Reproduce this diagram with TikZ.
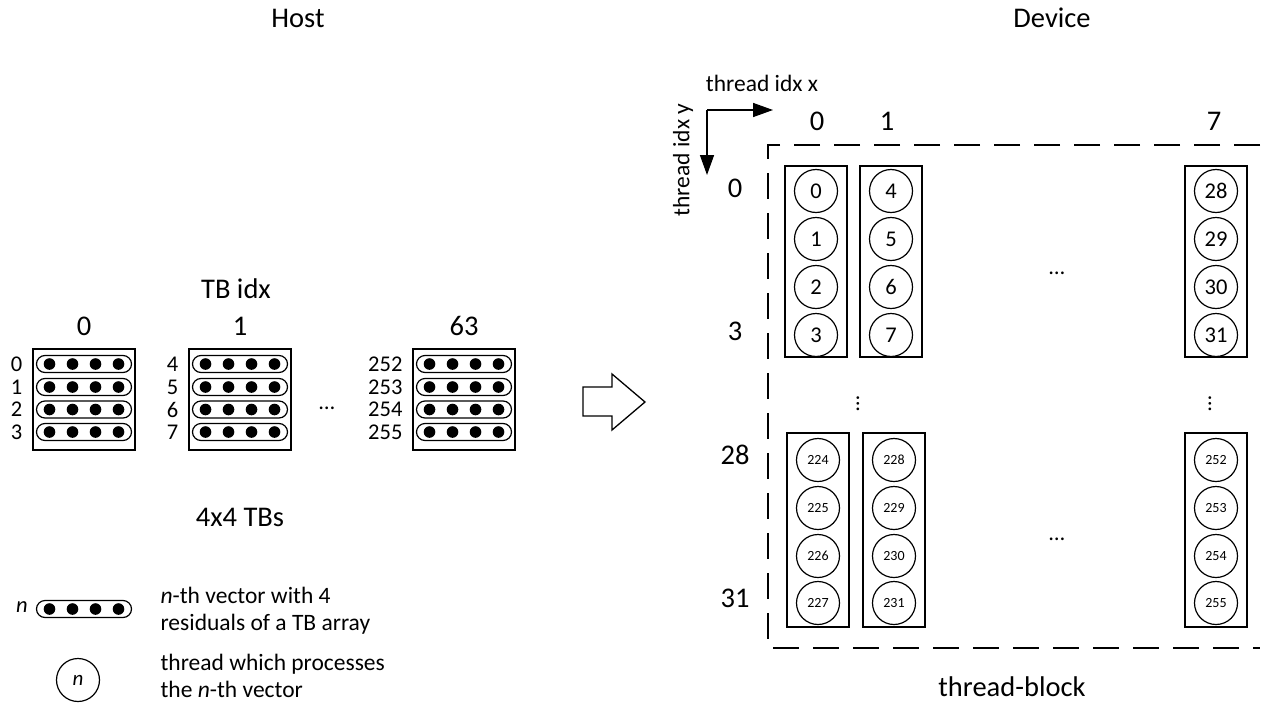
\documentclass[tikz,border=0pt]{standalone}
\usepackage{fontspec}
\setmainfont{Carlito}
\usetikzlibrary{arrows.meta}
\tikzset{
  big/.style={font=\fontsize{28.5}{32}\selectfont, inner sep=0pt},
  mid/.style={font=\fontsize{22.5}{26}\selectfont, inner sep=0pt},
  leg/.style={font=\fontsize{23.5}{27}\selectfont, inner sep=0pt, anchor=base west},
  small/.style={font=\fontsize{14}{16}\selectfont},
  tbbox/.style={draw, minimum width=102pt, minimum height=101pt, inner sep=0pt},
  capsule/.style={draw, rounded corners=8.5pt, minimum width=95pt, minimum height=17pt, inner sep=0pt},
  colbox/.style={draw, minimum width=62pt, inner sep=0pt},
  thr/.style={draw, circle, minimum size=43pt, inner sep=0pt},
  dot/.style={fill=black},
  axis/.style={line width=1.5pt, -{Triangle[length=20pt,width=14pt]}},
  blockline/.style={line width=1.5pt, dash pattern=on 26pt off 14pt},
}
\begin{document}
\begin{tikzpicture}[x=1pt, y=-1pt, line width=1.2pt]
\useasboundingbox (0,0) rectangle (1268,704);

% headings
\node[big] (host) at (298,18) {Host};
\node[big] (device) at (1052,18) {Device};

% ---------------- Host ----------------
\node[big] (tbidx) at (236,289) {TB idx};
\foreach \bx/\nm/\first/\lab in {33/A/0/0, 189/B/4/1, 413/C/252/63}{
  \node[tbbox] (\nm) at (\bx+51,399.5) {};
  \node[big] (\nm lab) at (\bx+51,326) {\lab};
  \foreach \r/\yy in {0/364, 1/387, 2/409.5, 3/432}{
    \pgfmathtruncatemacro\num{\first+\r}
    \node[capsule] (\nm v\r) at (\bx+51,\yy) {};
    \foreach \d in {-34.5,-11.5,11.5,34.5}
      \fill[dot] (\bx+51+\d,\yy) circle (5.8);
    \node[mid, anchor=east] (\nm n\r) at (\bx-10,\yy) {\num};
  }
}
\node[mid, anchor=base] (hdots) at (327,409) {\symbol{"2026}};
\node[big] (tbs) at (240,517) {4x4 TBs};

% legend
\node[capsule] (legcap) at (84,609) {};
\foreach \d in {-34.5,-11.5,11.5,34.5}
  \fill[dot] (84+\d,609) circle (5.8);
\node[mid] (legn) at (22,607) {\itshape n};
\node[leg] (leg1) at (160,603) {\textit{n}-th vector with 4};
\node[leg] (leg2) at (160,630) {residuals of a TB array};
\node[thr] (legthr) at (78,680) {\fontsize{21}{24}\selectfont\itshape n};
\node[leg] (leg3) at (160,670) {thread which processes};
\node[leg] (leg4) at (160,697) {the \textit{n}-th vector};

% hollow arrow
\draw[line width=1.3pt, line join=miter] (583,387) -- (612,387) -- (612,374) -- (645,402)
  -- (612,430) -- (612,416) -- (583,416) -- cycle;

% ---------------- Device ----------------
\coordinate (ax) at (707,110);
\coordinate (axx) at (773,110);
\coordinate (axy) at (707,175);
\draw[axis] (ax) -- (axx);
\draw[axis] (ax) -- (axy);
\node[leg, anchor=center] (tix) at (762,83) {thread idx x};
\node[leg, anchor=center, rotate=90] (tiy) at (683,160) {thread idx y};

\node[big] (c0) at (817,121) {0};
\node[big] (c1) at (887,121) {1};
\node[big] (c7) at (1214,121) {7};
\node[big] (r0) at (735,188) {0};
\node[big] (r3) at (735,331) {3};
\node[big] (r28) at (735,455) {28};
\node[big] (r31) at (735,598) {31};

\draw[blockline] (1260,145) -- (768,145) -- (768,648) -- (1260,648);

% top thread columns
\foreach \cx/\nm/\first in {816/P/0, 891/Q/4, 1216/R/28}{
  \node[colbox, minimum height=191pt] (\nm) at (\cx,261.5) {};
  \foreach \k/\yy in {0/191, 1/239, 2/287, 3/335}{
    \pgfmathtruncatemacro\num{\first+\k}
    \node[thr, mid] (\nm t\k) at (\cx,\yy) {\num};
  }
}
% bottom thread columns
\foreach \cx/\nm/\first in {818/S/224, 894/T/228, 1216/U/252}{
  \node[colbox, minimum height=194pt] (\nm) at (\cx,530) {};
  \foreach \k/\yy in {0/460, 1/508, 2/556, 3/603}{
    \pgfmathtruncatemacro\num{\first+\k}
    \node[thr, small] (\nm t\k) at (\cx,\yy) {\num};
  }
}

\node[mid, anchor=base] (tdots) at (1057,274) {\symbol{"2026}};
\node[mid, anchor=base] (bdots) at (1057,540) {\symbol{"2026}};
\node[mid, anchor=base, rotate=90] (vdots1) at (859,404) {\symbol{"2026}};
\node[mid, anchor=base, rotate=90] (vdots2) at (1211,404) {\symbol{"2026}};

\node[big] (tblock) at (1012,687) {thread-block};
\end{tikzpicture}
\end{document}
